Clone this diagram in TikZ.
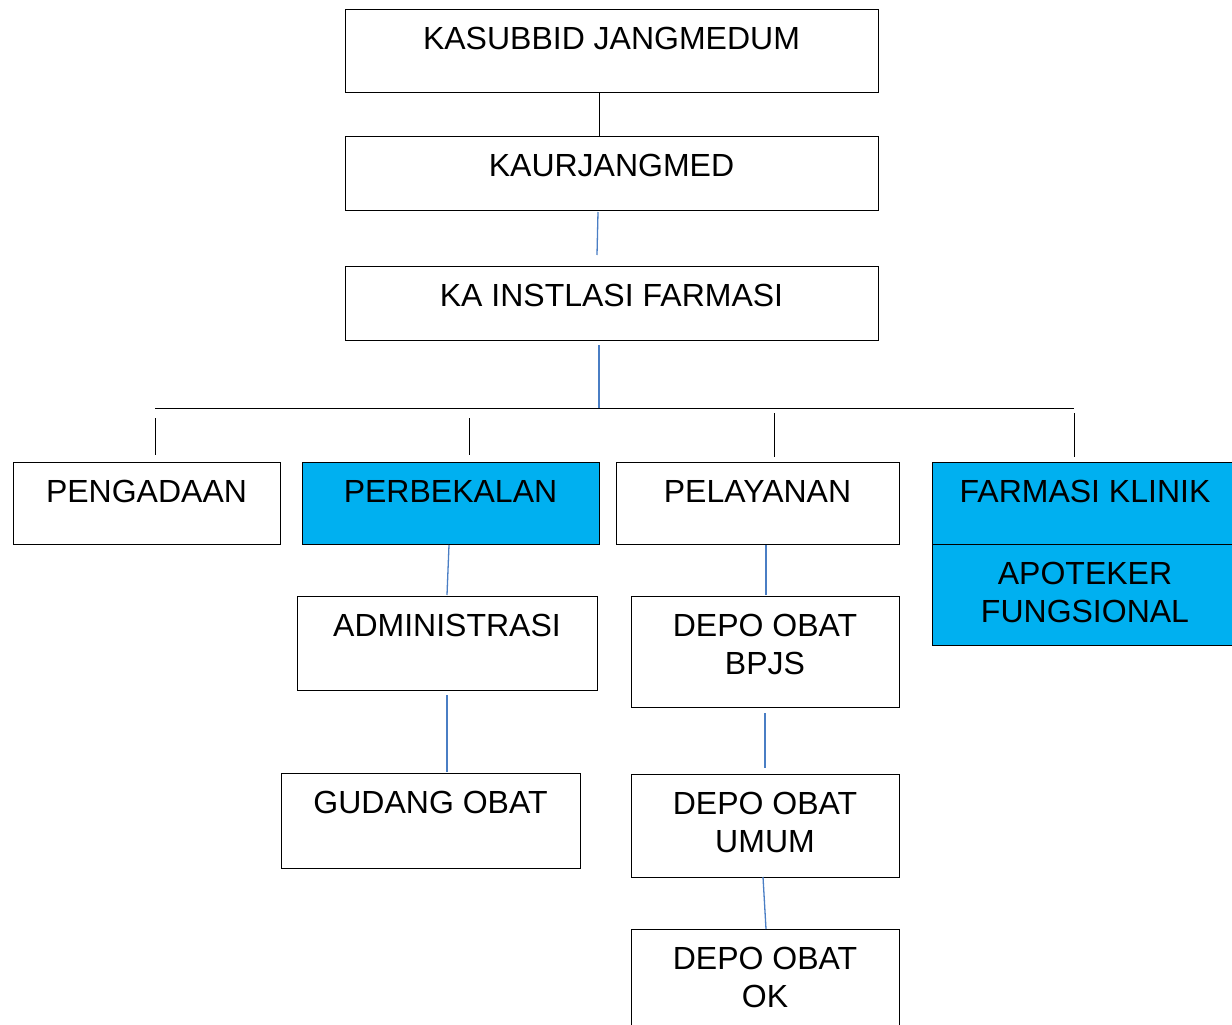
\documentclass[tikz,border=0pt]{standalone}
\usepackage{fontspec}
\setmainfont{Liberation Sans}
\usetikzlibrary{calc}
\definecolor{boxblue}{RGB}{0,176,240}
\definecolor{linkblue}{RGB}{74,126,196}
\tikzset{
  orgbox/.style={draw=black, line width=1pt, rectangle, inner sep=0pt, outer sep=0pt},
  hilite/.style={orgbox, fill=boxblue},
  lbl/.style={anchor=base, align=center, inner sep=0pt, font=\fontsize{32}{38.5}\selectfont},
  blk/.style={draw=black, line width=1pt},
  bl/.style={draw=linkblue, line width=1.3pt}
}
\begin{document}
\begin{tikzpicture}[x=1pt,y=-1pt]
\useasboundingbox (0,0) rectangle (1232,1025);
\clip (0,0) rectangle (1232,1025);
% boxes
\node[orgbox, minimum width=533pt, minimum height=83pt] (kas) at (611.5,51.5) {};
\node[orgbox, minimum width=533pt, minimum height=74pt] (kaur) at (611.5,173) {};
\node[orgbox, minimum width=533pt, minimum height=74pt] (ka) at (611.5,303) {};
\node[orgbox, minimum width=267pt, minimum height=82pt] (peng) at (146.5,503) {};
\node[hilite, minimum width=297pt, minimum height=82pt] (perb) at (450.5,503) {};
\node[orgbox, minimum width=283pt, minimum height=82pt] (pel) at (757.5,503) {};
\node[hilite, minimum width=306pt, minimum height=82pt] (fk) at (1085,503) {};
\node[hilite, minimum width=306pt, minimum height=101pt] (apo) at (1085,594.5) {};
\node[orgbox, minimum width=300pt, minimum height=94pt] (adm) at (447,643) {};
\node[orgbox, minimum width=299pt, minimum height=95pt] (gud) at (430.5,820.5) {};
\node[orgbox, minimum width=268pt, minimum height=111pt] (bpjs) at (765,651.5) {};
\node[orgbox, minimum width=268pt, minimum height=103pt] (umum) at (765,825.5) {};
\node[orgbox, minimum width=268pt, minimum height=110pt] (ok) at (765,984) {};
% labels (base = baseline of last line)
\node[lbl] (tkas) at ($(kas.north)+(0,40)$) {KASUBBID JANGMEDUM};
\node[lbl] (tkaur) at ($(kaur.north)+(0,40)$) {KAURJANGMED};
\node[lbl] (tka) at ($(ka.north)+(0,40)$) {KA INSTLASI FARMASI};
\node[lbl] (tpeng) at ($(peng.north)+(0,40)$) {PENGADAAN};
\node[lbl] (tperb) at ($(perb.north)+(0,40)$) {PERBEKALAN};
\node[lbl] (tpel) at ($(pel.north)+(0,40)$) {PELAYANAN};
\node[lbl] (tfk) at ($(fk.north)+(0,40)$) {FARMASI KLINIK};
\node[lbl] (tapo) at ($(apo.north)+(0,78.5)$) {APOTEKER\\FUNGSIONAL};
\node[lbl] (tadm) at ($(adm.north)+(0,40)$) {ADMINISTRASI};
\node[lbl] (tgud) at ($(gud.north)+(0,40)$) {GUDANG OBAT};
\node[lbl] (tbpjs) at ($(bpjs.north)+(0,78.5)$) {DEPO OBAT\\BPJS};
\node[lbl] (tumum) at ($(umum.north)+(0,78.5)$) {DEPO OBAT\\UMUM};
\node[lbl] (tok) at ($(ok.north)+(0,78.5)$) {DEPO OBAT\\OK};
% connectors
\draw[blk] (599,0 |- kas.south) -- (599,0 |- kaur.north);
\draw[bl] ($(kaur.south)+(-13.5,2)$) -- ($(ka.north)+(-14.5,-11)$);
\coordinate (busL) at (155,408);
\coordinate (busR) at (1074,408);
\draw[bl] ($(ka.south)+(-12.5,5)$) -- (599,0 |- busL);
\draw[blk] (busL) -- (busR);
\draw[blk] (155,418) -- (155,455);
\draw[blk] (469,418) -- (469,455);
\draw[blk] (774,413) -- (774,457);
\draw[blk] (1074,413) -- (1074,457);
\draw[bl] ($(perb.south)+(-1.5,1)$) -- ($(adm.north)+(0,-1)$);
\draw[bl] ($(adm.south)+(0,5)$) -- ($(gud.north)+(16.5,-1)$);
\draw[bl] ($(pel.south)+(8.5,1)$) -- ($(bpjs.north)+(1,-1)$);
\draw[bl] ($(bpjs.south)+(0,6)$) -- ($(umum.north)+(0,-6)$);
\draw[bl] ($(umum.south)+(-2,0)$) -- ($(ok.north)+(1,0)$);
\end{tikzpicture}
\end{document}
